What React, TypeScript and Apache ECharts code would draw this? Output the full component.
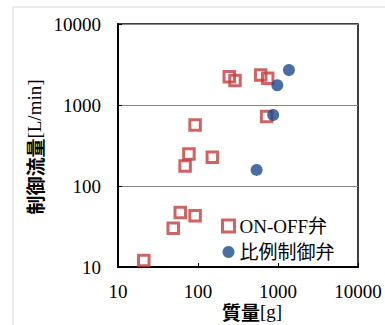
import React, { useEffect, useRef } from "react";
import * as echarts from "echarts";

// Valve mass [g] vs. controlled flow rate [L/min]
const onOffMass = [246, 290, 608, 743, 721, 92, 77, 69, 151, 60, 92, 49, 21];
const onOffFlow = [2240, 2000, 2350, 2140, 720, 566, 248, 177, 226, 47, 43, 30, 12];
const propMass = [1370, 980, 870, 540];
const propFlow = [2700, 1750, 754, 158];

const seriesNames = ["ON-OFF弁", "比例制御弁"];
const xTitle = ["質量", "[g]"];
const yTitle = ["制御流量", "[L/min]"];

const FONT = "'Liberation Serif', 'Times New Roman', 'Noto Sans CJK JP', serif";
const CJK = "'Noto Sans CJK JP', sans-serif";
const RED = "#C43C3C";
const BLUE = "#1C4A8A";

const pairs = (xs: number[], ys: number[]) => xs.map((x, i) => [x, ys[i]]);
const plain = (v: number) => String(Math.round(v));

export default function App() {
  const ref = useRef<HTMLDivElement>(null);

  useEffect(() => {
    if (!ref.current) return;
    const chart = echarts.init(ref.current, undefined, { renderer: "svg" });
    chart.setOption({
      animation: false,
      backgroundColor: "#fff",
      textStyle: { fontFamily: FONT, color: "#000" },
      grid: {
        left: 118,
        right: 27,
        top: 24,
        bottom: 58,
        show: true,
        borderColor: "#000",
        borderWidth: 1.5,
      },
      xAxis: {
        type: "log",
        logBase: 10,
        min: 10,
        max: 10000,
        axisLine: { show: true, onZero: false, lineStyle: { color: "#000", width: 2 } },
        axisTick: { show: true, inside: true, length: 4, lineStyle: { color: "#000" } },
        splitLine: { show: false },
        axisLabel: { fontFamily: FONT, fontSize: 19, color: "#000", margin: 15, formatter: plain },
      },
      yAxis: {
        type: "log",
        logBase: 10,
        min: 10,
        max: 10000,
        axisLine: { show: true, onZero: false, lineStyle: { color: "#000", width: 2 } },
        axisTick: { show: true, inside: true, length: 4, lineStyle: { color: "#000" } },
        splitLine: { show: true, lineStyle: { color: "#868686", width: 1 } },
        axisLabel: { fontFamily: FONT, fontSize: 19, color: "#000", margin: 17, formatter: plain },
      },
      legend: {
        orient: "vertical",
        left: 216,
        top: 211,
        itemWidth: 12,
        itemHeight: 12,
        itemGap: 6,
        textStyle: { fontFamily: FONT, fontSize: 19, color: "#000", lineHeight: 20 },
        data: [
          { name: seriesNames[0], itemStyle: { borderWidth: 3, borderColor: RED } },
          { name: seriesNames[1] },
        ],
      },
      series: [
        {
          name: seriesNames[0],
          type: "scatter",
          symbol: "rect",
          symbolSize: 10.5,
          itemStyle: { color: "rgba(255,255,255,0)", borderColor: RED, borderWidth: 3 },
          data: pairs(onOffMass, onOffFlow),
          z: 3,
        },
        {
          name: seriesNames[1],
          type: "scatter",
          symbol: "circle",
          symbolSize: 12,
          itemStyle: { color: BLUE },
          data: pairs(propMass, propFlow),
          z: 4,
        },
      ],
      graphic: [
        {
          type: "rect",
          shape: { x: 13, y: 7, width: 500, height: 500 },
          style: { fill: "none", stroke: "#d9d9d9", lineWidth: 1 },
          silent: true,
          z: -10,
        },
        {
          type: "text",
          x: 34,
          y: 147,
          rotation: Math.PI / 2,
          style: {
            text: `{a|${yTitle[0]}}{b|${yTitle[1]}}`,
            align: "center",
            verticalAlign: "middle",
            rich: {
              a: { fontFamily: CJK, fontSize: 19, fontWeight: "bold", fill: "#000" },
              b: { fontFamily: FONT, fontSize: 19, fill: "#000" },
            },
          },
        },
        {
          type: "text",
          x: 252,
          y: 311,
          style: {
            text: `{a|${xTitle[0]}}{b|${xTitle[1]}}`,
            align: "center",
            verticalAlign: "middle",
            rich: {
              a: { fontFamily: CJK, fontSize: 19, fontWeight: "bold", fill: "#000", lineHeight: 20 },
              b: { fontFamily: FONT, fontSize: 19, fill: "#000", lineHeight: 20 },
            },
          },
        },
      ],
    });
    return () => chart.dispose();
  }, []);

  return (
    <div
      ref={ref}
      style={{ position: "fixed", left: 0, top: 0, width: 385, height: 325 }}
    />
  );
}
